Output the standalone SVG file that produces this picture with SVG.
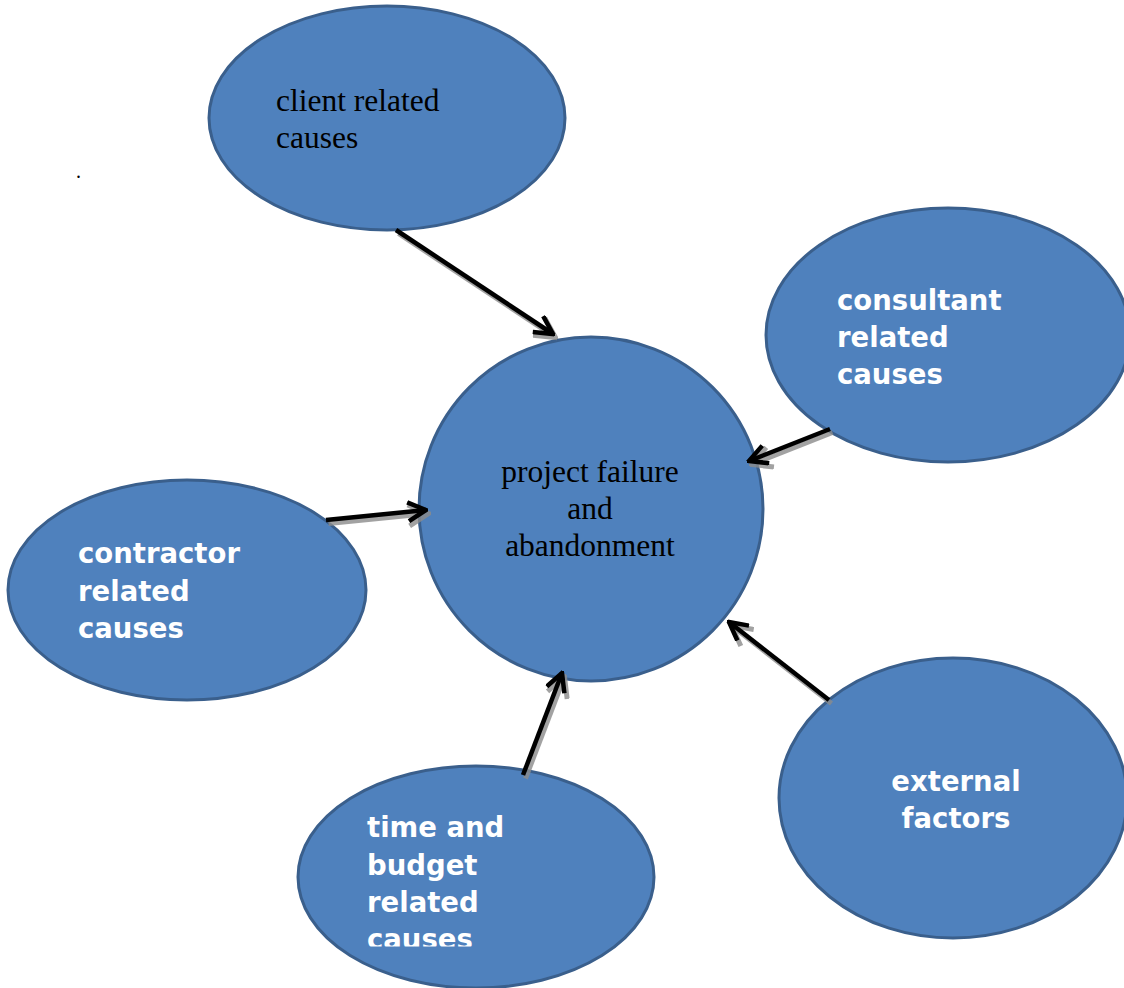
<svg xmlns="http://www.w3.org/2000/svg" width="1124" height="988" viewBox="0 0 1124 988">
  <defs>
    <style>
      .node { fill: #4F81BD; stroke: #3A5F8C; stroke-width: 3; }
      .serif { font-family: "Liberation Serif", "Times New Roman", serif; font-size: 31.5px; fill: #000; }
      .sans { font-family: "DejaVu Sans", Verdana, sans-serif; font-weight: bold; font-size: 27.5px; fill: #fff; }
      .arrow { fill: none; stroke: #000; stroke-width: 4.5; stroke-linecap: butt; }
      .shadow { fill: none; stroke: #8c8c8c; stroke-width: 5; opacity: 0.8; }
    </style>
    <marker id="head" viewBox="0 0 10 10" refX="9" refY="5" markerWidth="5" markerHeight="5" orient="auto" markerUnits="strokeWidth">
      <path d="M1,0.8 L9,5 L1,9.2" fill="none" stroke="#000" stroke-width="2"/>
    </marker>
    <marker id="headShadow" viewBox="0 0 10 10" refX="9" refY="5" markerWidth="5" markerHeight="5" orient="auto" markerUnits="strokeWidth">
      <path d="M1,0.8 L9,5 L1,9.2" fill="none" stroke="#8c8c8c" stroke-width="2"/>
    </marker>
    <clipPath id="budgetClip">
      <rect x="300" y="760" width="360" height="186.5"/>
    </clipPath>
  </defs>

  <rect width="1124" height="988" fill="#fff"/>

  <text class="serif" x="76" y="178" style="font-size:20px">.</text>

  <g id="client">
    <ellipse class="node" cx="387" cy="118" rx="178" ry="112"/>
    <text class="serif" x="276" y="111">client related</text>
    <text class="serif" x="276" y="148">causes</text>
  </g>

  <g id="consultant">
    <ellipse class="node" cx="948" cy="335" rx="182" ry="127"/>
    <text class="sans" x="837" y="310">consultant</text>
    <text class="sans" x="837" y="347">related</text>
    <text class="sans" x="837" y="384">causes</text>
  </g>

  <g id="project">
    <circle class="node" cx="591" cy="509" r="172"/>
    <text class="serif" x="590" y="482" text-anchor="middle">project failure</text>
    <text class="serif" x="590" y="519" text-anchor="middle">and</text>
    <text class="serif" x="590" y="556" text-anchor="middle">abandonment</text>
  </g>

  <g id="contractor">
    <ellipse class="node" cx="187" cy="590" rx="179" ry="110"/>
    <text class="sans" x="78" y="563">contractor</text>
    <text class="sans" x="78" y="601">related</text>
    <text class="sans" x="78" y="638">causes</text>
  </g>

  <g id="budget">
    <ellipse class="node" cx="476" cy="877" rx="178" ry="111"/>
    <g clip-path="url(#budgetClip)">
      <text class="sans" x="367" y="837">time and</text>
      <text class="sans" x="367" y="875">budget</text>
      <text class="sans" x="367" y="912">related</text>
      <text class="sans" x="367" y="949">causes</text>
    </g>
  </g>

  <g id="external">
    <ellipse class="node" cx="953" cy="798" rx="174" ry="140"/>
    <text class="sans" x="956" y="791" text-anchor="middle">external</text>
    <text class="sans" x="956" y="828" text-anchor="middle">factors</text>
  </g>

  <g id="connectors">
    <g transform="translate(2.5,3.5)">
      <line class="shadow" x1="396" y1="230" x2="553" y2="334" marker-end="url(#headShadow)"/>
      <line class="shadow" x1="830" y1="429" x2="749" y2="461" marker-end="url(#headShadow)"/>
      <line class="shadow" x1="326" y1="520" x2="426" y2="510" marker-end="url(#headShadow)"/>
      <line class="shadow" x1="523" y1="775" x2="562" y2="673" marker-end="url(#headShadow)"/>
      <line class="shadow" x1="829" y1="700" x2="729" y2="622" marker-end="url(#headShadow)"/>
    </g>
    <line class="arrow" x1="396" y1="230" x2="553" y2="334" marker-end="url(#head)"/>
    <line class="arrow" x1="830" y1="429" x2="749" y2="461" marker-end="url(#head)"/>
    <line class="arrow" x1="326" y1="520" x2="426" y2="510" marker-end="url(#head)"/>
    <line class="arrow" x1="523" y1="775" x2="562" y2="673" marker-end="url(#head)"/>
    <line class="arrow" x1="829" y1="700" x2="729" y2="622" marker-end="url(#head)"/>
  </g>
</svg>
